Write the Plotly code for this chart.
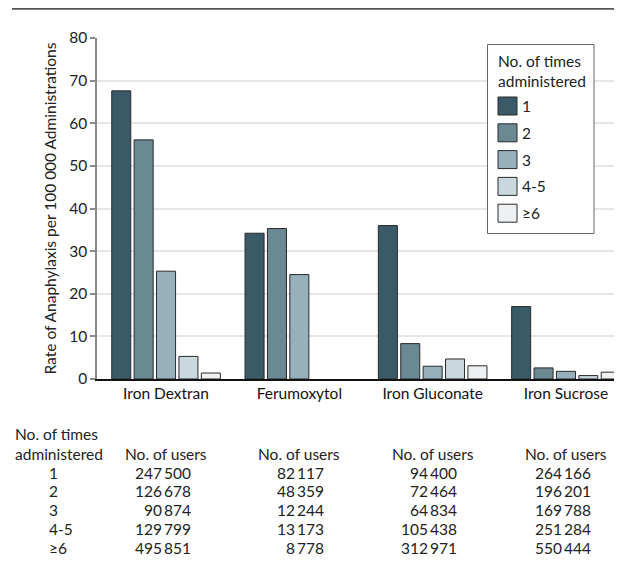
import plotly.graph_objects as go

# ---- data ----
categories = ["Iron Dextran", "Ferumoxytol", "Iron Gluconate", "Iron Sucrose"]
series_names = ["1", "2", "3", "4-5", "≥6"]
rate_1 = [67.6, 34.2, 36.0, 17.0]
rate_2 = [56.1, 35.3, 8.3, 2.6]
rate_3 = [25.3, 24.5, 3.0, 1.8]
rate_45 = [5.3, None, 4.7, 0.8]
rate_6 = [1.4, None, 3.1, 1.6]
rates = [rate_1, rate_2, rate_3, rate_45, rate_6]
colors = ["#3b5a67", "#6b8993", "#96b1bc", "#c9d8de", "#edf1f4"]

users_1 = [247500, 82117, 94400, 264166]
users_2 = [126678, 48359, 72464, 196201]
users_3 = [90874, 12244, 64834, 169788]
users_45 = [129799, 13173, 105438, 251284]
users_6 = [495851, 8778, 312971, 550444]
users = [users_1, users_2, users_3, users_45, users_6]

y_ticks = [0, 10, 20, 30, 40, 50, 60, 70, 80]

FONT = "Lato"
FS = 15.5
OFF = 8  # page body margin
W, H = 622, 575
ML, MR, MT, MB = 97 - OFF, 0, 38 - OFF, 575 - (379 - OFF)
PW, PH = W - ML - MR, H - MT - MB
UNIT = 133.3  # px per category
X0 = -0.518
X1 = X0 + PW / UNIT


def px(xs):  # screen x -> paper
    return (xs - OFF - ML) / PW


def py(ys):  # screen y -> paper
    return (MT + PH - (ys - OFF)) / PH


fig = go.Figure()
for name, vals, col in zip(series_names, rates, colors):
    fig.add_trace(go.Bar(
        x=categories, y=vals, name=name,
        marker=dict(color=col, line=dict(color="#2a2a2a", width=1)),
        showlegend=False,
    ))

fig.update_layout(
    width=W, height=H,
    margin=dict(l=ML, r=MR, t=MT, b=MB),
    plot_bgcolor="white", paper_bgcolor="white",
    barmode="group", bargap=0.16, bargroupgap=0.15,
    font=dict(family=FONT, size=FS, color="#222"),
    xaxis=dict(
        type="category", range=[X0, X1],
        showline=True, linecolor="#111", linewidth=1.5,
        ticks="", showgrid=False,
        tickfont=dict(family=FONT, size=FS, color="#111"),
    ),
    yaxis=dict(
        range=[0, 80], tickvals=y_ticks,
        showline=True, linecolor="#888", linewidth=1.5,
        ticks="outside", ticklen=5, tickcolor="#888", tickwidth=1.5,
        showgrid=True, gridcolor="#e6e6e6", gridwidth=1.5,
        zeroline=False,
        title=dict(text="Rate of Anaphylaxis per 100 000 Administrations",
                   font=dict(family=FONT, size=FS, color="#222"), standoff=9),
        tickfont=dict(family=FONT, size=FS, color="#222"),
    ),
)

shapes = []
annotations = []

# top rule
shapes.append(dict(type="line", xref="paper", yref="paper",
                   x0=px(12), x1=px(640), y0=py(8.8), y1=py(8.8),
                   line=dict(color="#555", width=2)))

# legend (manual)
shapes.append(dict(type="rect", xref="paper", yref="paper",
                   x0=px(487.5), x1=px(594), y0=py(44.5), y1=py(233.5),
                   line=dict(color="#666", width=1), fillcolor="white", layer="above"))
annotations.append(dict(xref="paper", yref="paper", x=px(496), y=py(71),
                        text="No. of times<br>administered", showarrow=False,
                        xanchor="left", yanchor="middle", align="left",
                        font=dict(family=FONT, size=FS, color="#222")))
for i, (name, col) in enumerate(zip(series_names, colors)):
    yc = 106 + i * 26.8
    shapes.append(dict(type="rect", xref="paper", yref="paper",
                       x0=px(498), x1=px(517), y0=py(yc - 9), y1=py(yc + 9),
                       line=dict(color="#2a2a2a", width=1), fillcolor=col, layer="above"))
    annotations.append(dict(xref="paper", yref="paper", x=px(520), y=py(yc),
                            text=name, showarrow=False, xanchor="left", yanchor="middle",
                            font=dict(family=FONT, size=FS, color="#222")))

# table below
annotations.append(dict(xref="paper", yref="paper", x=px(13), y=py(444),
                        text="No. of times<br>administered", showarrow=False,
                        xanchor="left", yanchor="middle", align="left",
                        font=dict(family=FONT, size=FS, color="#222")))
row_y0, row_dy = 472.5, 18.9
for r, name in enumerate(series_names):
    annotations.append(dict(xref="paper", yref="paper", x=px(47), y=py(row_y0 + r * row_dy),
                            text=name, showarrow=False, xanchor="left", yanchor="middle",
                            font=dict(family=FONT, size=FS, color="#222")))


def fmt(n):
    s = f"{n:,}"
    return s.replace(",", "\u2009")


for c, cat in enumerate(categories):
    annotations.append(dict(xref="x", yref="paper", x=c, y=py(453.5),
                            text="No. of users", showarrow=False, xanchor="center",
                            yanchor="middle",
                            font=dict(family=FONT, size=FS, color="#222")))
    for r in range(len(series_names)):
        annotations.append(dict(xref="x", yref="paper", x=c + 0.2,
                                y=py(row_y0 + r * row_dy),
                                text=fmt(users[r][c]), showarrow=False,
                                xanchor="right", yanchor="middle",
                                font=dict(family=FONT, size=FS, color="#222")))

fig.update_layout(shapes=shapes, annotations=annotations)
fig.write_html("out.html")
